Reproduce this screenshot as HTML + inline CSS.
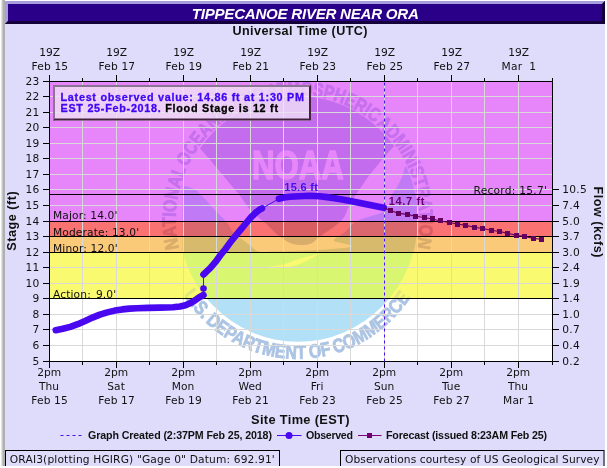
<!DOCTYPE html>
<html lang="en"><head><meta charset="utf-8"><title>TIPPECANOE RIVER NEAR ORA</title>
<style>
html,body{margin:0;padding:0;background:#fff;}
svg{display:block}
.v{font-family:"DejaVu Sans","Liberation Sans",sans-serif;font-size:10.67px;fill:#111}
.a{font-family:"Liberation Sans",sans-serif;font-weight:bold}
</style></head><body>
<svg width="607" height="468" viewBox="0 0 607 468">
<filter id="idf" x="0" y="0" width="607" height="468" filterUnits="userSpaceOnUse" color-interpolation-filters="sRGB"><feOffset dx="0" dy="0"/></filter>
<g filter="url(#idf)">
<rect x="0" y="0" width="607" height="468" fill="#ffffff"/>
<rect x="1" y="0" width="1" height="468" fill="#e4e4e4"/><rect x="2" y="0" width="1" height="468" fill="#c6c6c6"/><rect x="3" y="0" width="2" height="468" fill="#b0b0b0"/>
<rect x="5" y="1" width="600" height="465" fill="#dfdcfb"/>
<rect x="5" y="1" width="600" height="23" fill="#2a0088"/>
<path d="M5 1H605L602 4H8V21L5 24Z" fill="#a79fdd"/>
<path d="M605 1V24H5L8 21H602V4Z" fill="#14003a"/>
<text class="a" x="305.3" y="18.9" text-anchor="middle" font-size="15.1" font-style="italic" fill="#fff" textLength="227" lengthAdjust="spacing">TIPPECANOE RIVER NEAR ORA</text>
<text class="a" x="300" y="35" text-anchor="middle" font-size="12.6" fill="#111" textLength="135" lengthAdjust="spacing">Universal Time (UTC)</text>
<defs><clipPath id="dk0"><circle cx="0" cy="0" r="119.8"/></clipPath><clipPath id="dk"><rect clip-path="url(#dk0)" x="-115.4" y="-130" width="260" height="260"/></clipPath>
<path id="tp" d="M-118.83 27.65A122 122 0 1 1 118.83 27.65"/>
<path id="bp" d="M-114.36 72.86A135.6 135.6 0 0 0 113.07 74.84"/>
<g id="sk" transform="translate(298 219) scale(1 1.025)"><path clip-path="url(#dk)" d="M-103.0 -74.1C-101.8 -72.9 -99.9 -70.9 -96.6 -67.3C-93.3 -63.7 -88.6 -58.4 -84.8 -54.0C-81.0 -49.7 -79.0 -47.3 -75.7 -43.4C-72.4 -39.6 -69.9 -36.5 -66.6 -32.7C-63.3 -28.8 -60.8 -26.2 -57.5 -22.0C-54.2 -17.9 -51.6 -13.4 -48.5 -9.8C-45.4 -6.1 -43.0 -4.5 -40.0 -2.0C-37.0 0.6 -34.7 2.0 -32.0 4.4C-29.3 6.8 -27.5 8.9 -25.0 11.2C-22.5 13.6 -20.9 15.3 -18.0 17.4C-15.1 19.5 -12.6 21.5 -9.0 22.9C-5.4 24.4 -2.0 25.2 2.0 25.4C6.0 25.5 9.4 25.4 13.0 23.9C16.6 22.4 16.5 21.1 22.0 17.1C27.5 13.0 38.2 6.7 43.4 1.5C48.6 -3.8 48.2 -7.6 50.8 -12.2C53.4 -16.8 55.5 -20.2 57.9 -23.9C60.3 -27.6 62.0 -29.5 64.3 -32.7C66.6 -35.9 68.2 -38.4 70.6 -41.6C73.0 -44.8 75.3 -47.2 77.9 -50.4C80.5 -53.6 82.4 -56.1 85.2 -59.3C88.0 -62.5 90.6 -65.2 93.4 -68.2C96.2 -71.2 99.6 -74.7 101.0 -76.1L140 -76.1L140 -130L-140 -130L-140 -74.1Z"/></g>
<g id="se" transform="translate(298 219) scale(1 1.025)"><path clip-path="url(#dk)" d="M116.0 -55.6C114.5 -55.0 110.0 -54.7 107.9 -52.2C105.8 -49.7 105.9 -45.4 104.3 -41.6C102.7 -37.7 100.8 -34.4 98.8 -30.9C96.8 -27.5 95.1 -26.1 93.4 -22.4C91.7 -18.8 91.6 -13.8 89.5 -10.7C87.4 -7.7 87.3 -7.6 82.0 -5.4C76.7 -3.2 66.1 -1.7 59.8 1.6C53.5 4.8 50.3 10.0 47.0 12.7C43.7 15.4 43.5 15.0 41.5 16.6C39.5 18.2 34.3 19.9 36.0 21.5C37.7 23.0 48.2 24.1 51.0 25.2C53.8 26.3 56.4 26.7 51.5 27.6C46.6 28.5 32.9 29.4 24.0 30.0C15.1 30.7 10.5 30.7 2.0 31.0C-6.5 31.3 -15.6 31.6 -23.0 31.7C-30.4 31.8 -34.3 32.9 -39.0 31.7C-43.7 30.5 -45.8 27.2 -49.0 24.9C-52.2 22.6 -54.4 20.8 -57.0 19.0C-59.6 17.2 -60.7 17.8 -63.4 14.8C-66.1 11.8 -68.5 6.6 -72.0 2.4C-75.5 -1.7 -79.4 -4.5 -83.0 -8.3C-86.6 -12.1 -89.3 -15.6 -92.0 -18.5C-94.7 -21.4 -96.0 -22.5 -98.0 -24.4C-100.0 -26.2 -100.5 -27.5 -103.0 -28.8C-105.5 -30.1 -108.6 -30.9 -112.0 -31.7C-115.4 -32.5 -120.2 -32.9 -122.0 -33.2L-140 -33.2L-140 130L140 130L140 -55.6Z"/></g>
<g id="wh" transform="translate(298 219) scale(1 1.025)"><path stroke-width="0" d="M-37.0 47.8C-33.0 47.2 -21.7 45.9 -15.0 44.4C-8.3 42.9 -6.8 41.3 0.0 39.3C6.8 37.3 18.9 34.3 23.0 33.2L23.0 33.2C19.4 35.0 9.8 40.8 3.0 43.4C-3.8 46.0 -7.8 46.8 -15.0 47.6C-22.2 48.4 -33.0 47.8 -37.0 47.8Z"/>
<text x="-0.1" y="-39.2" text-anchor="middle" font-family="Liberation Sans,sans-serif" font-weight="bold" font-size="40" stroke-width="1.4" stroke-linejoin="round" textLength="92" lengthAdjust="spacingAndGlyphs">NOAA</text></g>
<g id="tx" transform="translate(297.7 220) scale(1 1.025)"><text font-family="Liberation Sans,sans-serif" font-weight="bold" font-size="19" stroke-width="0.8" word-spacing="-2.6"><textPath href="#tp" textLength="438.1" lengthAdjust="spacingAndGlyphs">NATIONAL OCEANIC AND ATMOSPHERIC ADMINISTRATION</textPath></text>
<text font-family="Liberation Sans,sans-serif" font-weight="bold" font-size="19" stroke-width="0.8" word-spacing="-2.6"><textPath href="#bp" word-spacing="-1.2" textLength="268.8" lengthAdjust="spacingAndGlyphs">U.S. DEPARTMENT OF COMMERCE</textPath></text></g>
</defs>
<clipPath id="b0"><rect x="49.50" y="81.50" width="503.00" height="140.00"/></clipPath>
<rect x="49.50" y="81.50" width="503.00" height="140.00" fill="#e686fa"/>
<g clip-path="url(#b0)"><use href="#sk" fill="#c46cee"/><use href="#se" fill="#c07af6"/><use href="#wh" fill="#e686fa" stroke="#e686fa"/><use href="#tx" fill="#c670ee" stroke="#c670ee"/></g>
<clipPath id="b1"><rect x="49.50" y="221.50" width="503.00" height="15.00"/></clipPath>
<rect x="49.50" y="221.50" width="503.00" height="15.00" fill="#fa7272"/>
<g clip-path="url(#b1)"><use href="#sk" fill="#d85e64"/><use href="#se" fill="#da666e"/><use href="#wh" fill="#fa7272" stroke="#fa7272"/><use href="#tx" fill="#d95f65" stroke="#d95f65"/></g>
<clipPath id="b2"><rect x="49.50" y="236.50" width="503.00" height="16.00"/></clipPath>
<rect x="49.50" y="236.50" width="503.00" height="16.00" fill="#faca78"/>
<g clip-path="url(#b2)"><use href="#sk" fill="#d8ac6a"/><use href="#se" fill="#d8ba6c"/><use href="#wh" fill="#faca78" stroke="#faca78"/><use href="#tx" fill="#d9ad6a" stroke="#d9ad6a"/></g>
<clipPath id="b3"><rect x="49.50" y="252.50" width="503.00" height="46.00"/></clipPath>
<rect x="49.50" y="252.50" width="503.00" height="46.00" fill="#fafa70"/>
<g clip-path="url(#b3)"><use href="#sk" fill="#d8d86c"/><use href="#se" fill="#d8f670"/><use href="#wh" fill="#fafa70" stroke="#fafa70"/><use href="#tx" fill="#dfe87a" stroke="#dfe87a"/></g>
<clipPath id="b4"><rect x="49.50" y="298.50" width="503.00" height="63.00"/></clipPath>
<rect x="49.50" y="298.50" width="503.00" height="63.00" fill="#ffffff"/>
<g clip-path="url(#b4)"><use href="#sk" fill="#b4c6e4"/><use href="#se" fill="#b2e0f6"/><use href="#wh" fill="#ffffff" stroke="#ffffff"/><use href="#tx" fill="#acc4e4" stroke="#acc4e4"/></g>
<path d="M82.50 81.50V361.50M116.50 81.50V361.50M149.50 81.50V361.50M183.50 81.50V361.50M216.50 81.50V361.50M250.50 81.50V361.50M283.50 81.50V361.50M317.50 81.50V361.50M350.50 81.50V361.50M384.50 81.50V361.50M417.50 81.50V361.50M451.50 81.50V361.50M484.50 81.50V361.50M518.50 81.50V361.50M49.50 345.50H552.50M49.50 329.50H552.50M49.50 314.50H552.50M49.50 298.50H552.50M49.50 283.50H552.50M49.50 267.50H552.50M49.50 252.50H552.50M49.50 236.50H552.50M49.50 221.50H552.50M49.50 205.50H552.50M49.50 189.50H552.50M49.50 174.50H552.50M49.50 158.50H552.50M49.50 143.50H552.50M49.50 127.50H552.50M49.50 112.50H552.50M49.50 96.50H552.50" stroke="#d9d9d9" stroke-width="1" fill="none"/>
<path d="M49.50 194.50H552.50M49.50 221.50H552.50M49.50 236.50H552.50M49.50 252.50H552.50M49.50 298.50H552.50" stroke="#000" stroke-width="1" fill="none"/>
<text class="v" x="53" y="219.2" letter-spacing="0.13">Major: 14.0'</text>
<text class="v" x="53" y="236.1" letter-spacing="0.13">Moderate: 13.0'</text>
<text class="v" x="53" y="251.8" letter-spacing="0.13">Minor: 12.0'</text>
<text class="v" x="53" y="298.3" letter-spacing="0.13">Action: <tspan dx="1.5">9.0'</tspan></text>
<text class="v" x="547.2" y="194.0" text-anchor="end" letter-spacing="0.25">Record: 15.7'</text>
<path d="M49.5 81.5H552.5V361.5H49.5Z" stroke="#000" stroke-width="1" fill="none"/>
<path d="M49.5 75.0V81.5M49.5 361.5V368.0M82.5 78.0V81.5M82.5 361.5V365.0M116.5 75.0V81.5M116.5 361.5V368.0M149.5 78.0V81.5M149.5 361.5V365.0M183.5 75.0V81.5M183.5 361.5V368.0M216.5 78.0V81.5M216.5 361.5V365.0M250.5 75.0V81.5M250.5 361.5V368.0M283.5 78.0V81.5M283.5 361.5V365.0M317.5 75.0V81.5M317.5 361.5V368.0M350.5 78.0V81.5M350.5 361.5V365.0M384.5 75.0V81.5M384.5 361.5V368.0M417.5 78.0V81.5M417.5 361.5V365.0M451.5 75.0V81.5M451.5 361.5V368.0M484.5 78.0V81.5M484.5 361.5V365.0M518.5 75.0V81.5M518.5 361.5V368.0M552.5 78.0V81.5M552.5 361.5V365.0M43.0 361.5H49.5M552.5 361.5H559.0M43.0 345.5H49.5M552.5 345.5H559.0M43.0 329.5H49.5M552.5 329.5H559.0M43.0 314.5H49.5M552.5 314.5H559.0M43.0 298.5H49.5M552.5 298.5H559.0M43.0 283.5H49.5M552.5 283.5H559.0M43.0 267.5H49.5M552.5 267.5H559.0M43.0 252.5H49.5M552.5 252.5H559.0M43.0 236.5H49.5M552.5 236.5H559.0M43.0 221.5H49.5M552.5 221.5H559.0M43.0 205.5H49.5M552.5 205.5H559.0M43.0 189.5H49.5M552.5 189.5H559.0M43.0 174.5H49.5M43.0 158.5H49.5M43.0 143.5H49.5M43.0 127.5H49.5M43.0 112.5H49.5M43.0 96.5H49.5M43.0 81.5H49.5" stroke="#000" stroke-width="1" fill="none"/>
<text class="v" x="39.8" y="364.8" text-anchor="end" letter-spacing="0.4">5</text>
<text class="v" x="562.3" y="364.8" letter-spacing="0.25">0.2</text>
<text class="v" x="39.8" y="348.8" text-anchor="end" letter-spacing="0.4">6</text>
<text class="v" x="562.3" y="348.8" letter-spacing="0.25">0.4</text>
<text class="v" x="39.8" y="332.8" text-anchor="end" letter-spacing="0.4">7</text>
<text class="v" x="562.3" y="332.8" letter-spacing="0.25">0.7</text>
<text class="v" x="39.8" y="317.8" text-anchor="end" letter-spacing="0.4">8</text>
<text class="v" x="562.3" y="317.8" letter-spacing="0.25">1.0</text>
<text class="v" x="39.8" y="301.8" text-anchor="end" letter-spacing="0.4">9</text>
<text class="v" x="562.3" y="301.8" letter-spacing="0.25">1.4</text>
<text class="v" x="39.8" y="286.8" text-anchor="end" letter-spacing="0.4">10</text>
<text class="v" x="562.3" y="286.8" letter-spacing="0.25">1.9</text>
<text class="v" x="39.8" y="270.8" text-anchor="end" letter-spacing="0.4">11</text>
<text class="v" x="562.3" y="270.8" letter-spacing="0.25">2.4</text>
<text class="v" x="39.8" y="255.8" text-anchor="end" letter-spacing="0.4">12</text>
<text class="v" x="562.3" y="255.8" letter-spacing="0.25">3.0</text>
<text class="v" x="39.8" y="239.8" text-anchor="end" letter-spacing="0.4">13</text>
<text class="v" x="562.3" y="239.8" letter-spacing="0.25">3.7</text>
<text class="v" x="39.8" y="224.8" text-anchor="end" letter-spacing="0.4">14</text>
<text class="v" x="562.3" y="224.8" letter-spacing="0.25">5.0</text>
<text class="v" x="39.8" y="208.8" text-anchor="end" letter-spacing="0.4">15</text>
<text class="v" x="562.3" y="208.8" letter-spacing="0.25">7.4</text>
<text class="v" x="39.8" y="192.8" text-anchor="end" letter-spacing="0.4">16</text>
<text class="v" x="562.3" y="192.8" letter-spacing="0.25">10.5</text>
<text class="v" x="39.8" y="177.8" text-anchor="end" letter-spacing="0.4">17</text>
<text class="v" x="39.8" y="161.8" text-anchor="end" letter-spacing="0.4">18</text>
<text class="v" x="39.8" y="146.8" text-anchor="end" letter-spacing="0.4">19</text>
<text class="v" x="39.8" y="130.8" text-anchor="end" letter-spacing="0.4">20</text>
<text class="v" x="39.8" y="115.8" text-anchor="end" letter-spacing="0.4">21</text>
<text class="v" x="39.8" y="99.8" text-anchor="end" letter-spacing="0.4">22</text>
<text class="v" x="39.8" y="84.8" text-anchor="end" letter-spacing="0.4">23</text>
<text class="v" x="49.6" y="56" text-anchor="middle">19Z</text>
<text class="v" x="49.9" y="70" text-anchor="middle" letter-spacing="0.15" xml:space="preserve">Feb 15</text>
<text class="v" x="49.1" y="375.6" text-anchor="middle">2pm</text>
<text class="v" x="49.1" y="390" text-anchor="middle">Thu</text>
<text class="v" x="49.6" y="403.8" text-anchor="middle" letter-spacing="0.15">Feb 15</text>
<text class="v" x="116.6" y="56" text-anchor="middle">19Z</text>
<text class="v" x="116.9" y="70" text-anchor="middle" letter-spacing="0.15" xml:space="preserve">Feb 17</text>
<text class="v" x="116.1" y="375.6" text-anchor="middle">2pm</text>
<text class="v" x="116.1" y="390" text-anchor="middle">Sat</text>
<text class="v" x="116.6" y="403.8" text-anchor="middle" letter-spacing="0.15">Feb 17</text>
<text class="v" x="183.6" y="56" text-anchor="middle">19Z</text>
<text class="v" x="183.9" y="70" text-anchor="middle" letter-spacing="0.15" xml:space="preserve">Feb 19</text>
<text class="v" x="183.1" y="375.6" text-anchor="middle">2pm</text>
<text class="v" x="183.1" y="390" text-anchor="middle">Mon</text>
<text class="v" x="183.6" y="403.8" text-anchor="middle" letter-spacing="0.15">Feb 19</text>
<text class="v" x="250.6" y="56" text-anchor="middle">19Z</text>
<text class="v" x="250.9" y="70" text-anchor="middle" letter-spacing="0.15" xml:space="preserve">Feb 21</text>
<text class="v" x="250.1" y="375.6" text-anchor="middle">2pm</text>
<text class="v" x="250.1" y="390" text-anchor="middle">Wed</text>
<text class="v" x="250.6" y="403.8" text-anchor="middle" letter-spacing="0.15">Feb 21</text>
<text class="v" x="317.6" y="56" text-anchor="middle">19Z</text>
<text class="v" x="317.9" y="70" text-anchor="middle" letter-spacing="0.15" xml:space="preserve">Feb 23</text>
<text class="v" x="317.1" y="375.6" text-anchor="middle">2pm</text>
<text class="v" x="317.1" y="390" text-anchor="middle">Fri</text>
<text class="v" x="317.6" y="403.8" text-anchor="middle" letter-spacing="0.15">Feb 23</text>
<text class="v" x="384.6" y="56" text-anchor="middle">19Z</text>
<text class="v" x="384.9" y="70" text-anchor="middle" letter-spacing="0.15" xml:space="preserve">Feb 25</text>
<text class="v" x="384.1" y="375.6" text-anchor="middle">2pm</text>
<text class="v" x="384.1" y="390" text-anchor="middle">Sun</text>
<text class="v" x="384.6" y="403.8" text-anchor="middle" letter-spacing="0.15">Feb 25</text>
<text class="v" x="451.6" y="56" text-anchor="middle">19Z</text>
<text class="v" x="451.9" y="70" text-anchor="middle" letter-spacing="0.15" xml:space="preserve">Feb 27</text>
<text class="v" x="451.1" y="375.6" text-anchor="middle">2pm</text>
<text class="v" x="451.1" y="390" text-anchor="middle">Tue</text>
<text class="v" x="451.6" y="403.8" text-anchor="middle" letter-spacing="0.15">Feb 27</text>
<text class="v" x="518.6" y="56" text-anchor="middle">19Z</text>
<text class="v" x="518.9" y="70" text-anchor="middle" letter-spacing="0.15" xml:space="preserve">Mar  1</text>
<text class="v" x="518.1" y="375.6" text-anchor="middle">2pm</text>
<text class="v" x="518.1" y="390" text-anchor="middle">Thu</text>
<text class="v" x="518.6" y="403.8" text-anchor="middle" letter-spacing="0.15">Mar 1</text>
<text class="a" transform="translate(16 221) rotate(-90)" text-anchor="middle" font-size="12.6" fill="#111" textLength="59.5" lengthAdjust="spacing">Stage (ft)</text>
<text class="a" transform="translate(593.8 222) rotate(90)" text-anchor="middle" font-size="12.6" fill="#111" textLength="71" lengthAdjust="spacing">Flow (kcfs)</text>
<text class="a" x="300.3" y="424.4" text-anchor="middle" font-size="12.8" fill="#111" textLength="98.5" lengthAdjust="spacing">Site Time (EST)</text>
<path d="M384.5 82.5V361.5" stroke="#4a12e8" stroke-width="1" stroke-dasharray="3 3" fill="none"/>
<path d="M55.7 330.2L62.8 328.8L70.3 326.9L77.7 324.2L85.1 321.0L92.5 317.6L99.9 314.6L107.3 312.4L114.8 310.6L122.2 309.4L129.6 308.6L137.0 308.3L148.0 307.9L160.0 307.6L173.0 307.2L180.0 306.5L185.5 305.3L191.0 302.8L195.0 300.4L199.0 297.5L203.5 295.0L203.5 288.5L203.5 274.5L207.0 271.2L210.2 268.2L215.3 262.2L220.4 255.2L225.5 249.0L230.6 241.8L235.7 235.7L240.7 229.6L245.8 223.5L250.9 217.4L256.0 212.4L260.0 209.3L262.0 208.4L278.9 198.8L284.0 197.6L289.8 196.8L299.6 196.2L309.5 195.8L319.4 196.2L329.3 197.4L339.2 199.0L349.0 200.8L358.9 202.7L368.8 204.7L378.7 206.7L383.8 207.8" stroke="#4a08f0" stroke-width="1" fill="none"/>
<path d="M55.7 330.2L62.8 328.8L70.3 326.9L77.7 324.2L85.1 321.0L92.5 317.6L99.9 314.6L107.3 312.4L114.8 310.6L122.2 309.4L129.6 308.6L137.0 308.3L148.0 307.9L160.0 307.6L173.0 307.2L180.0 306.5L185.5 305.3L191.0 302.8L195.0 300.4L199.0 297.5L203.5 295.0" stroke="#4a08f0" stroke-width="6.6" stroke-linecap="round" stroke-linejoin="round" fill="none"/>
<path d="M203.5 274.5L207.0 271.2L210.2 268.2L215.3 262.2L220.4 255.2L225.5 249.0L230.6 241.8L235.7 235.7L240.7 229.6L245.8 223.5L250.9 217.4L256.0 212.4L260.0 209.3L262.0 208.4" stroke="#4a08f0" stroke-width="6.6" stroke-linecap="round" stroke-linejoin="round" fill="none"/>
<path d="M278.9 198.8L284.0 197.6L289.8 196.8L299.6 196.2L309.5 195.8L319.4 196.2L329.3 197.4L339.2 199.0L349.0 200.8L358.9 202.7L368.8 204.7L378.7 206.7L383.8 207.8" stroke="#4a08f0" stroke-width="6.6" stroke-linecap="round" stroke-linejoin="round" fill="none"/>
<circle cx="203.5" cy="288.5" r="3.3" fill="#4a08f0"/>
<path d="M384.0 207.9L390.5 210.4L398.9 213.4L407.3 214.4L415.6 216.3L424.0 217.5L432.4 219.0L440.8 221.0L449.2 222.5L457.6 224.0L465.9 225.4L474.3 227.3L482.7 228.5L491.1 230.2L499.5 231.5L507.9 233.4L516.2 235.3L524.6 236.5L533.0 238.4L541.4 239.3" stroke="#64005f" stroke-width="1.1" fill="none"/>
<path d="M388.0 208.0h5v5h-5zM396.0 211.0h5v5h-5zM405.0 212.0h5v5h-5zM413.0 214.0h5v5h-5zM422.0 215.0h5v5h-5zM430.0 216.0h5v5h-5zM438.0 218.0h5v5h-5zM447.0 220.0h5v5h-5zM455.0 222.0h5v5h-5zM463.0 223.0h5v5h-5zM472.0 225.0h5v5h-5zM480.0 226.0h5v5h-5zM489.0 228.0h5v5h-5zM497.0 229.0h5v5h-5zM505.0 231.0h5v5h-5zM514.0 233.0h5v5h-5zM522.0 234.0h5v5h-5zM531.0 236.0h5v5h-5zM539.0 237.0h5v5h-5z" fill="#64005f"/>
<text class="a" x="284.2" y="190.9" font-size="11" fill="#4410f0" textLength="33.8" lengthAdjust="spacing">15.6 ft</text>
<text class="a" x="388.8" y="205" font-size="11" fill="#6a0070" textLength="35.6" lengthAdjust="spacing">14.7 ft</text>
<rect x="53" y="85" width="258" height="35.6" fill="#f0e2f6" fill-opacity="0.8"/>
<path d="M53 85H311V87H55V120.6H53Z" fill="#8e7494"/><path d="M311 85V120.6H53L55 118.6H309V87Z" fill="#44223f"/>
<text class="a" x="60.5" y="101.2" font-size="10.8" fill="#4008f6" stroke="#4008f6" stroke-width="0.3" textLength="243.5" lengthAdjust="spacing">Latest observed value: 14.86 ft at 1:30 PM</text>
<text class="a" x="60.5" y="112.4" font-size="10.8" fill="#4008f6" stroke="#4008f6" stroke-width="0.3" textLength="217.5" lengthAdjust="spacing">EST 25-Feb-2018. <tspan fill="#000" stroke="#000">Flood Stage is 12 ft</tspan></text>
<path d="M60.5 435.5H82" stroke="#4a12e8" stroke-width="1" stroke-dasharray="3 3" fill="none"/>
<text class="a" x="88" y="439" font-size="10.67" fill="#111" textLength="184" lengthAdjust="spacing">Graph Created (2:37PM Feb 25, 2018)</text>
<path d="M277 435.5H301.5" stroke="#4a08f0" stroke-width="1" fill="none"/><circle cx="289" cy="435.5" r="3.5" fill="#4a08f0"/>
<text class="a" x="306" y="439" font-size="10.67" fill="#111" textLength="47" lengthAdjust="spacing">Observed</text>
<path d="M358 435.5H381.5" stroke="#78007a" stroke-width="1" fill="none"/><rect x="367" y="433" width="5" height="5" fill="#70006c"/>
<text class="a" x="386" y="439" font-size="10.67" fill="#111" textLength="161" lengthAdjust="spacing">Forecast (issued 8:23AM Feb 25)</text>
<rect x="5.5" y="450.5" width="274" height="16" fill="#dfdcfb" stroke="#000" stroke-width="1"/>
<text class="v" x="9.8" y="463.2" textLength="265" lengthAdjust="spacing">ORAI3(plotting HGIRG) "Gage 0" Datum: 692.91'</text>
<rect x="340.5" y="450.5" width="263.5" height="16" fill="#dfdcfb" stroke="#000" stroke-width="1"/>
<text class="v" x="345" y="463.2" textLength="254.5" lengthAdjust="spacing">Observations courtesy of US Geological Survey</text>
<rect x="0" y="466" width="607" height="2" fill="#ffffff"/>
</g></svg></body></html>
